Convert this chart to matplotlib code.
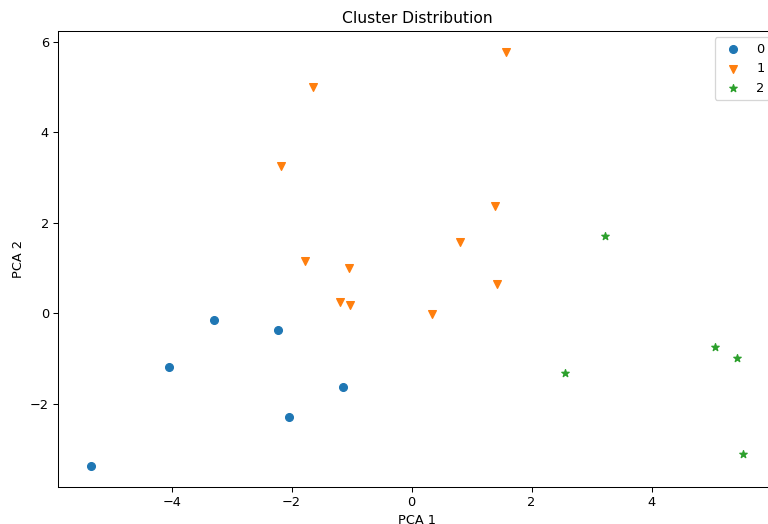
import matplotlib
matplotlib.use("Agg")
import matplotlib.pyplot as plt

# PCA coordinates per cluster
c0_x = [-5.35, -4.05, -3.30, -2.23, -2.05, -1.15]
c0_y = [-3.38, -1.18, -0.15, -0.36, -2.30, -1.63]

c1_x = [1.57, -1.64, -2.18, 1.39, 0.80, -1.77, -1.05, 1.42, -1.20, -1.02, 0.34]
c1_y = [5.78, 4.99, 3.25, 2.37, 1.58, 1.16, 1.00, 0.65, 0.25, 0.18, -0.01]

c2_x = [3.22, 2.55, 5.06, 5.42, 5.53]
c2_y = [1.71, -1.33, -0.75, -0.99, -3.11]

clusters = ["0", "1", "2"]
markers = ["o", "v", "*"]

dpi = 93
fig = plt.figure(figsize=(768 / dpi, 524 / dpi), dpi=dpi)
# axes run a little past the right edge, as in the cropped original
ax = fig.add_axes([58 / 768, 37 / 524, 718 / 768, 456 / 524])

for xs, ys, lab, m in zip([c0_x, c1_x, c2_x], [c0_y, c1_y, c2_y], clusters, markers):
    ax.scatter(xs, ys, marker=m, label=lab)

ax.set_title("Cluster Distribution")
ax.set_xlabel("PCA 1")
ax.set_ylabel("PCA 2")
ax.legend(loc="upper right")

fig.savefig("out.png", dpi=dpi)
